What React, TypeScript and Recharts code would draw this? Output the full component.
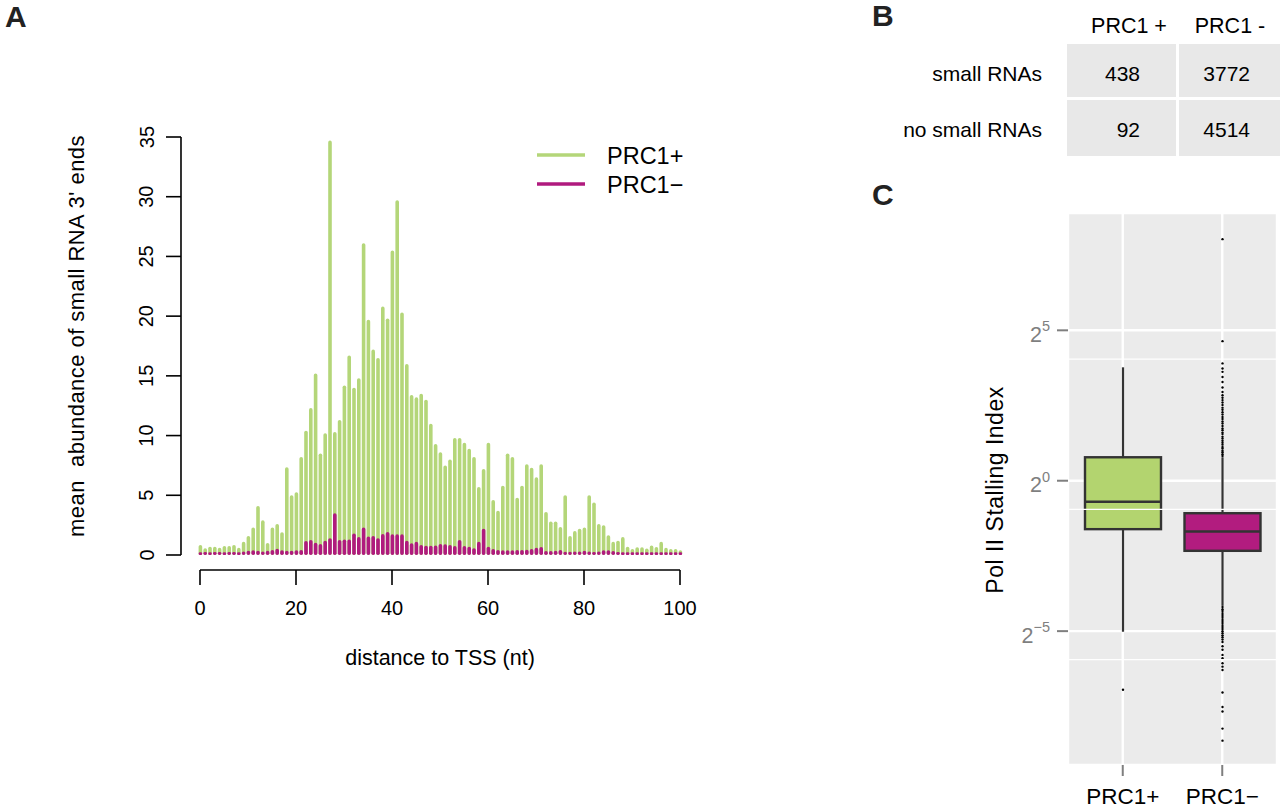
import React from 'react';
import {
  BarChart,
  Bar,
  XAxis,
  YAxis,
  CartesianGrid,
  ReferenceLine,
  Legend
} from 'recharts';

const FONT = '"Liberation Sans", Arial, Helvetica, sans-serif';
const GREEN = '#b4d679';
const MAGENTA = '#b01a7e';
const BOX_GREEN = '#b3d46f';
const BOX_MAGENTA = '#b21c7f';

// ---- A: small RNA 3' ends vs distance to TSS ----
const positions = Array.from({ length: 101 }, (_, i) => i);

const prc1Plus = [
  0.84, 0.56, 0.7, 0.7, 0.6, 0.75, 0.75, 0.84, 0.6, 1.1,
  1.6, 2.3, 4.1, 2.9, 1.0, 2.3, 2.6, 1.9, 7.35, 5.0,
  5.25, 8.2, 10.4, 12.3, 15.2, 8.5, 10.2, 34.7, 10.3, 11.3,
  14.2, 16.7, 14.0, 14.8, 26.1, 19.7, 17.2, 16.5, 20.8, 19.8,
  25.5, 29.7, 20.3, 16.0, 13.4, 13.2, 13.5, 13.0, 11.0, 9.3,
  8.6, 7.5, 8.0, 9.8, 9.8, 9.4, 8.9, 8.2, 5.7, 7.2,
  9.4, 4.6, 3.7, 5.8, 8.5, 8.2, 4.8, 5.8, 7.6, 7.3,
  6.5, 7.6, 3.6, 2.8, 2.8, 2.35, 5.0, 1.6, 2.0, 2.2,
  2.3, 5.0, 4.4, 2.6, 2.5, 1.65, 1.1, 1.2, 1.5, 0.7,
  0.5, 0.65, 0.65, 0.55, 0.8, 0.67, 1.1, 0.6, 0.5, 0.5,
  0.4
];

const prc1Minus = [
  0.22, 0.25, 0.22, 0.25, 0.25, 0.22, 0.25, 0.25, 0.22, 0.3,
  0.36, 0.4, 0.36, 0.3, 0.36, 0.42, 0.53, 0.4, 0.36, 0.36,
  0.4, 0.42, 1.17, 1.26, 1.03, 0.92, 1.2, 1.4, 3.5, 1.26,
  1.3, 1.3, 1.8, 1.5, 2.3, 1.55, 1.6, 1.4, 1.75, 1.93,
  1.73, 1.73, 1.73, 1.2, 0.98, 1.1, 0.84, 0.78, 0.78, 0.8,
  0.92, 0.9, 0.84, 0.75, 1.26, 0.75, 0.7, 0.56, 1.1, 2.2,
  0.7, 0.5, 0.42, 0.4, 0.4, 0.4, 0.42, 0.42, 0.45, 0.5,
  0.6, 0.67, 0.33, 0.33, 0.36, 0.42, 0.28, 0.28, 0.3, 0.3,
  0.36, 0.3, 0.25, 0.3, 0.4, 0.4, 0.33, 0.25, 0.22, 0.22,
  0.22, 0.22, 0.22, 0.22, 0.22, 0.22, 0.22, 0.22, 0.22, 0.22,
  0.22
];

const xTicks = [0, 20, 40, 60, 80, 100];
const yTicks = [0, 5, 10, 15, 20, 25, 30, 35];
const seriesNames = ['PRC1+', 'PRC1\u2212'];
const seriesColors = [GREEN, MAGENTA];

// ---- B: counts table ----
const tableCols = ['PRC1 +', 'PRC1 -'];
const tableRows = ['small RNAs', 'no small RNAs'];
const tableCounts = [
  [438, 3772],
  [92, 4514]
];

// ---- C: Pol II stalling index, log2 units ----
const boxGroups = ['PRC1+', 'PRC1\u2212'];
const whiskerLow = [-5.02, -4.16];
const quart1 = [-1.61, -2.33];
const medians = [-0.7, -1.69];
const quart3 = [0.78, -1.08];
const whiskerHigh = [3.77, 0.78];
const outliersPlus = [-6.95];
const outliersMinus = [
  0.82, 0.88, 0.95, 1.0, 1.07, 1.12, 1.2, 1.26, 1.33, 1.4, 1.46, 1.55,
  1.6, 1.68, 1.74, 1.82, 1.9, 1.97, 2.05, 2.12, 2.2, 2.28, 2.36, 2.43,
  2.52, 2.6, 2.68, 2.76, 2.84, 2.95, 3.1, 3.28, 3.45, 3.62, 3.73, 3.9,
  4.64, 8.03,
  -4.2, -4.27, -4.33, -4.4, -4.46, -4.53, -4.6, -4.66, -4.73, -4.8,
  -4.86, -4.93, -5.0, -5.07, -5.14, -5.2, -5.28, -5.36, -5.5, -5.62,
  -5.79, -5.9, -6.07, -6.18, -6.29, -7.04, -7.52, -7.67, -8.24, -8.64
];
const boxOutliers = [outliersPlus, outliersMinus];
const boxFills = [BOX_GREEN, BOX_MAGENTA];
const cTicks = [-5, 0, 5];
const cMinorGrid = [4.04, -0.95, -5.95];

const barData = positions.map((pos, i) => ({
  pos,
  plus: prc1Plus[i],
  minus: prc1Minus[i]
}));

const boxData = boxGroups.map((name, i) => ({
  name,
  box: [quart1[i], quart3[i]]
}));

const RotatedTick = (props: any) => {
  const { x, y, payload } = props;
  return (
    <text
      x={x}
      y={y}
      transform={`rotate(-90 ${x} ${y})`}
      textAnchor="middle"
      fontSize={20}
      fontFamily={FONT}
      fill="#000"
    >
      {payload.value}
    </text>
  );
};

const PowerTick = (props: any) => {
  const { x, y, payload } = props;
  const exp = payload.value < 0 ? `\u2212${Math.abs(payload.value)}` : `${payload.value}`;
  return (
    <text x={x} y={y + 11.5} textAnchor="end" fontSize={21.5} fontFamily={FONT} fill="#7f7f7f">
      2
      <tspan dy={-10.5} fontSize={14.5}>
        {exp}
      </tspan>
    </text>
  );
};

const LegendBox = () => (
  <svg width={200} height={70}>
    {seriesNames.map((name, i) => (
      <g key={name}>
        <line x1={17} x2={65} y1={20 + i * 29} y2={20 + i * 29} stroke={seriesColors[i]} strokeWidth={3.6} />
        <text x={87} y={28.5 + i * 29} fontSize={23.5} fontFamily={FONT} fill="#000">
          {name}
        </text>
      </g>
    ))}
  </svg>
);

// draws whiskers, box, median and outliers from the box range the library scaled
const BoxShape = (props: any) => {
  const { x, y, width, height, index } = props;
  const top = Math.min(y, y + height);
  const span = Math.abs(height);
  const perUnit = span / (quart3[index] - quart1[index]);
  const yOf = (v: number) => top + (quart3[index] - v) * perUnit;
  const cx = x + width / 2;
  return (
    <g>
      <line x1={cx} x2={cx} y1={yOf(whiskerHigh[index])} y2={yOf(quart3[index])} stroke="#333" strokeWidth={2.2} />
      <line x1={cx} x2={cx} y1={yOf(quart1[index])} y2={yOf(whiskerLow[index])} stroke="#333" strokeWidth={2.2} />
      <rect x={x} y={top} width={width} height={span} fill={boxFills[index]} stroke="#333" strokeWidth={2.4} />
      <line x1={x} x2={x + width} y1={yOf(medians[index])} y2={yOf(medians[index])} stroke="#333" strokeWidth={2.6} />
      {boxOutliers[index].map((v, k) => (
        <circle key={k} cx={cx} cy={yOf(v)} r={1.2} fill="#000" />
      ))}
    </g>
  );
};

const App: React.FC = () => {
  return (
    <div
      style={{
        position: 'absolute',
        left: 0,
        top: 0,
        width: 1280,
        height: 809,
        background: '#fff',
        fontFamily: FONT,
        overflow: 'hidden'
      }}
    >
      {/* A */}
      <div style={{ position: 'absolute', left: 0, top: 0 }}>
        <BarChart
          width={700}
          height={700}
          data={barData}
          margin={{ top: 137, right: 10, bottom: 90, left: 121 }}
        >
          <XAxis
            xAxisId="a"
            dataKey="pos"
            type="number"
            domain={[0, 100]}
            ticks={xTicks}
            padding={{ left: 19, right: 10 }}
            axisLine={false}
            tickLine={{ stroke: '#000', strokeWidth: 1.6 }}
            tickSize={15}
            tickMargin={16}
            height={40}
            tick={{ fill: '#000', fontSize: 20, fontFamily: FONT }}
          />
          <XAxis
            xAxisId="b"
            dataKey="pos"
            type="number"
            domain={[0, 100]}
            padding={{ left: 19, right: 10 }}
            hide
          />
          <YAxis
            type="number"
            domain={[0, 35]}
            ticks={yTicks}
            padding={{ top: 0, bottom: 15 }}
            width={60}
            axisLine={false}
            tickLine={{ stroke: '#000', strokeWidth: 1.6 }}
            tickSize={15}
            tickMargin={12.5}
            tick={<RotatedTick />}
          />
          <ReferenceLine
            xAxisId="a"
            segment={[{ x: -3.96, y: 0 }, { x: -3.96, y: 35 }]}
            stroke="#000"
            strokeWidth={1.6}
            ifOverflow="visible"
          />
          <ReferenceLine
            xAxisId="a"
            segment={[{ x: 0, y: -1.26 }, { x: 100, y: -1.26 }]}
            stroke="#000"
            strokeWidth={1.6}
            ifOverflow="visible"
          />
          <Bar
            xAxisId="a"
            dataKey="plus"
            name={seriesNames[0]}
            fill={GREEN}
            barSize={3.6}
            radius={1.8}
            isAnimationActive={false}
          />
          <Bar
            xAxisId="b"
            dataKey="minus"
            name={seriesNames[1]}
            fill={MAGENTA}
            barSize={3.6}
            radius={1.8}
            isAnimationActive={false}
          />
          <Legend
            layout="vertical"
            align="center"
            verticalAlign="middle"
            wrapperStyle={{ left: 520, top: 135, width: 200, height: 70 }}
            content={<LegendBox />}
          />
        </BarChart>
      </div>

      {/* C */}
      <div style={{ position: 'absolute', left: 960, top: 200 }}>
        <BarChart
          width={320}
          height={609}
          data={boxData}
          margin={{ top: 13, right: 3, bottom: 0, left: 0 }}
        >
          <CartesianGrid fill="#ebebeb" fillOpacity={1} stroke="#ffffff" strokeWidth={2.4} />
          {cMinorGrid.map((v) => (
            <ReferenceLine key={v} y={v} stroke="#ffffff" strokeWidth={1.2} />
          ))}
          <XAxis
            dataKey="name"
            padding={{ left: 5, right: 5 }}
            axisLine={false}
            tickLine={{ stroke: '#7f7f7f', strokeWidth: 2 }}
            tickSize={11}
            tickMargin={12}
            height={44}
            tick={{ fill: '#000', fontSize: 22.5, fontFamily: FONT }}
          />
          <YAxis
            type="number"
            domain={[-9.45, 8.9]}
            allowDataOverflow
            ticks={cTicks}
            width={108}
            axisLine={false}
            tickLine={{ stroke: '#7f7f7f', strokeWidth: 2 }}
            tickSize={11}
            tickMargin={7}
            tick={<PowerTick />}
          />
          <Bar dataKey="box" barSize={76} isAnimationActive={false} shape={(p: any) => <BoxShape {...p} />} />
        </BarChart>
      </div>

      {/* titles, panel letters and table B */}
      <svg
        width={1280}
        height={809}
        style={{ position: 'absolute', left: 0, top: 0, pointerEvents: 'none' }}
        fontFamily={FONT}
      >
        <text x={5} y={27} fontSize={30} fontWeight="bold" fill="#222">A</text>
        <text x={872} y={26} fontSize={30} fontWeight="bold" fill="#222">B</text>
        <text x={872} y={205} fontSize={30} fontWeight="bold" fill="#222">C</text>

        <text
          x={84}
          y={336}
          transform="rotate(-90 84 336)"
          textAnchor="middle"
          fontSize={22}
          letterSpacing={0.45}
          fill="#000"
          style={{ whiteSpace: 'pre' }}
        >
          {"mean  abundance of small RNA 3' ends"}
        </text>
        <text x={440} y={665} textAnchor="middle" fontSize={21.5} fill="#000">
          distance to TSS (nt)
        </text>
        <text
          x={1003}
          y={490}
          transform="rotate(-90 1003 490)"
          textAnchor="middle"
          fontSize={23}
          letterSpacing={0.5}
          fill="#000"
        >
          Pol II Stalling Index
        </text>

        {/* table */}
        <text x={1129} y={32.5} textAnchor="middle" fontSize={21.5} fill="#000">{tableCols[0]}</text>
        <text x={1230} y={32.5} textAnchor="middle" fontSize={21.5} fill="#000">{tableCols[1]}</text>
        {tableRows.map((row, r) => (
          <g key={row}>
            <rect x={1067} y={r === 0 ? 44 : 100} width={109} height={r === 0 ? 53 : 56} fill="#e8e8e8" />
            <rect x={1179} y={r === 0 ? 44 : 100} width={101} height={r === 0 ? 53 : 56} fill="#e8e8e8" />
            <text x={1042} y={r === 0 ? 81 : 137} textAnchor="end" fontSize={21} fill="#000">{row}</text>
            <text x={1140} y={r === 0 ? 81 : 137} textAnchor="end" fontSize={21} fill="#000">{tableCounts[r][0]}</text>
            <text x={1250} y={r === 0 ? 81 : 137} textAnchor="end" fontSize={21} fill="#000">{tableCounts[r][1]}</text>
          </g>
        ))}
      </svg>
    </div>
  );
};

export default App;
